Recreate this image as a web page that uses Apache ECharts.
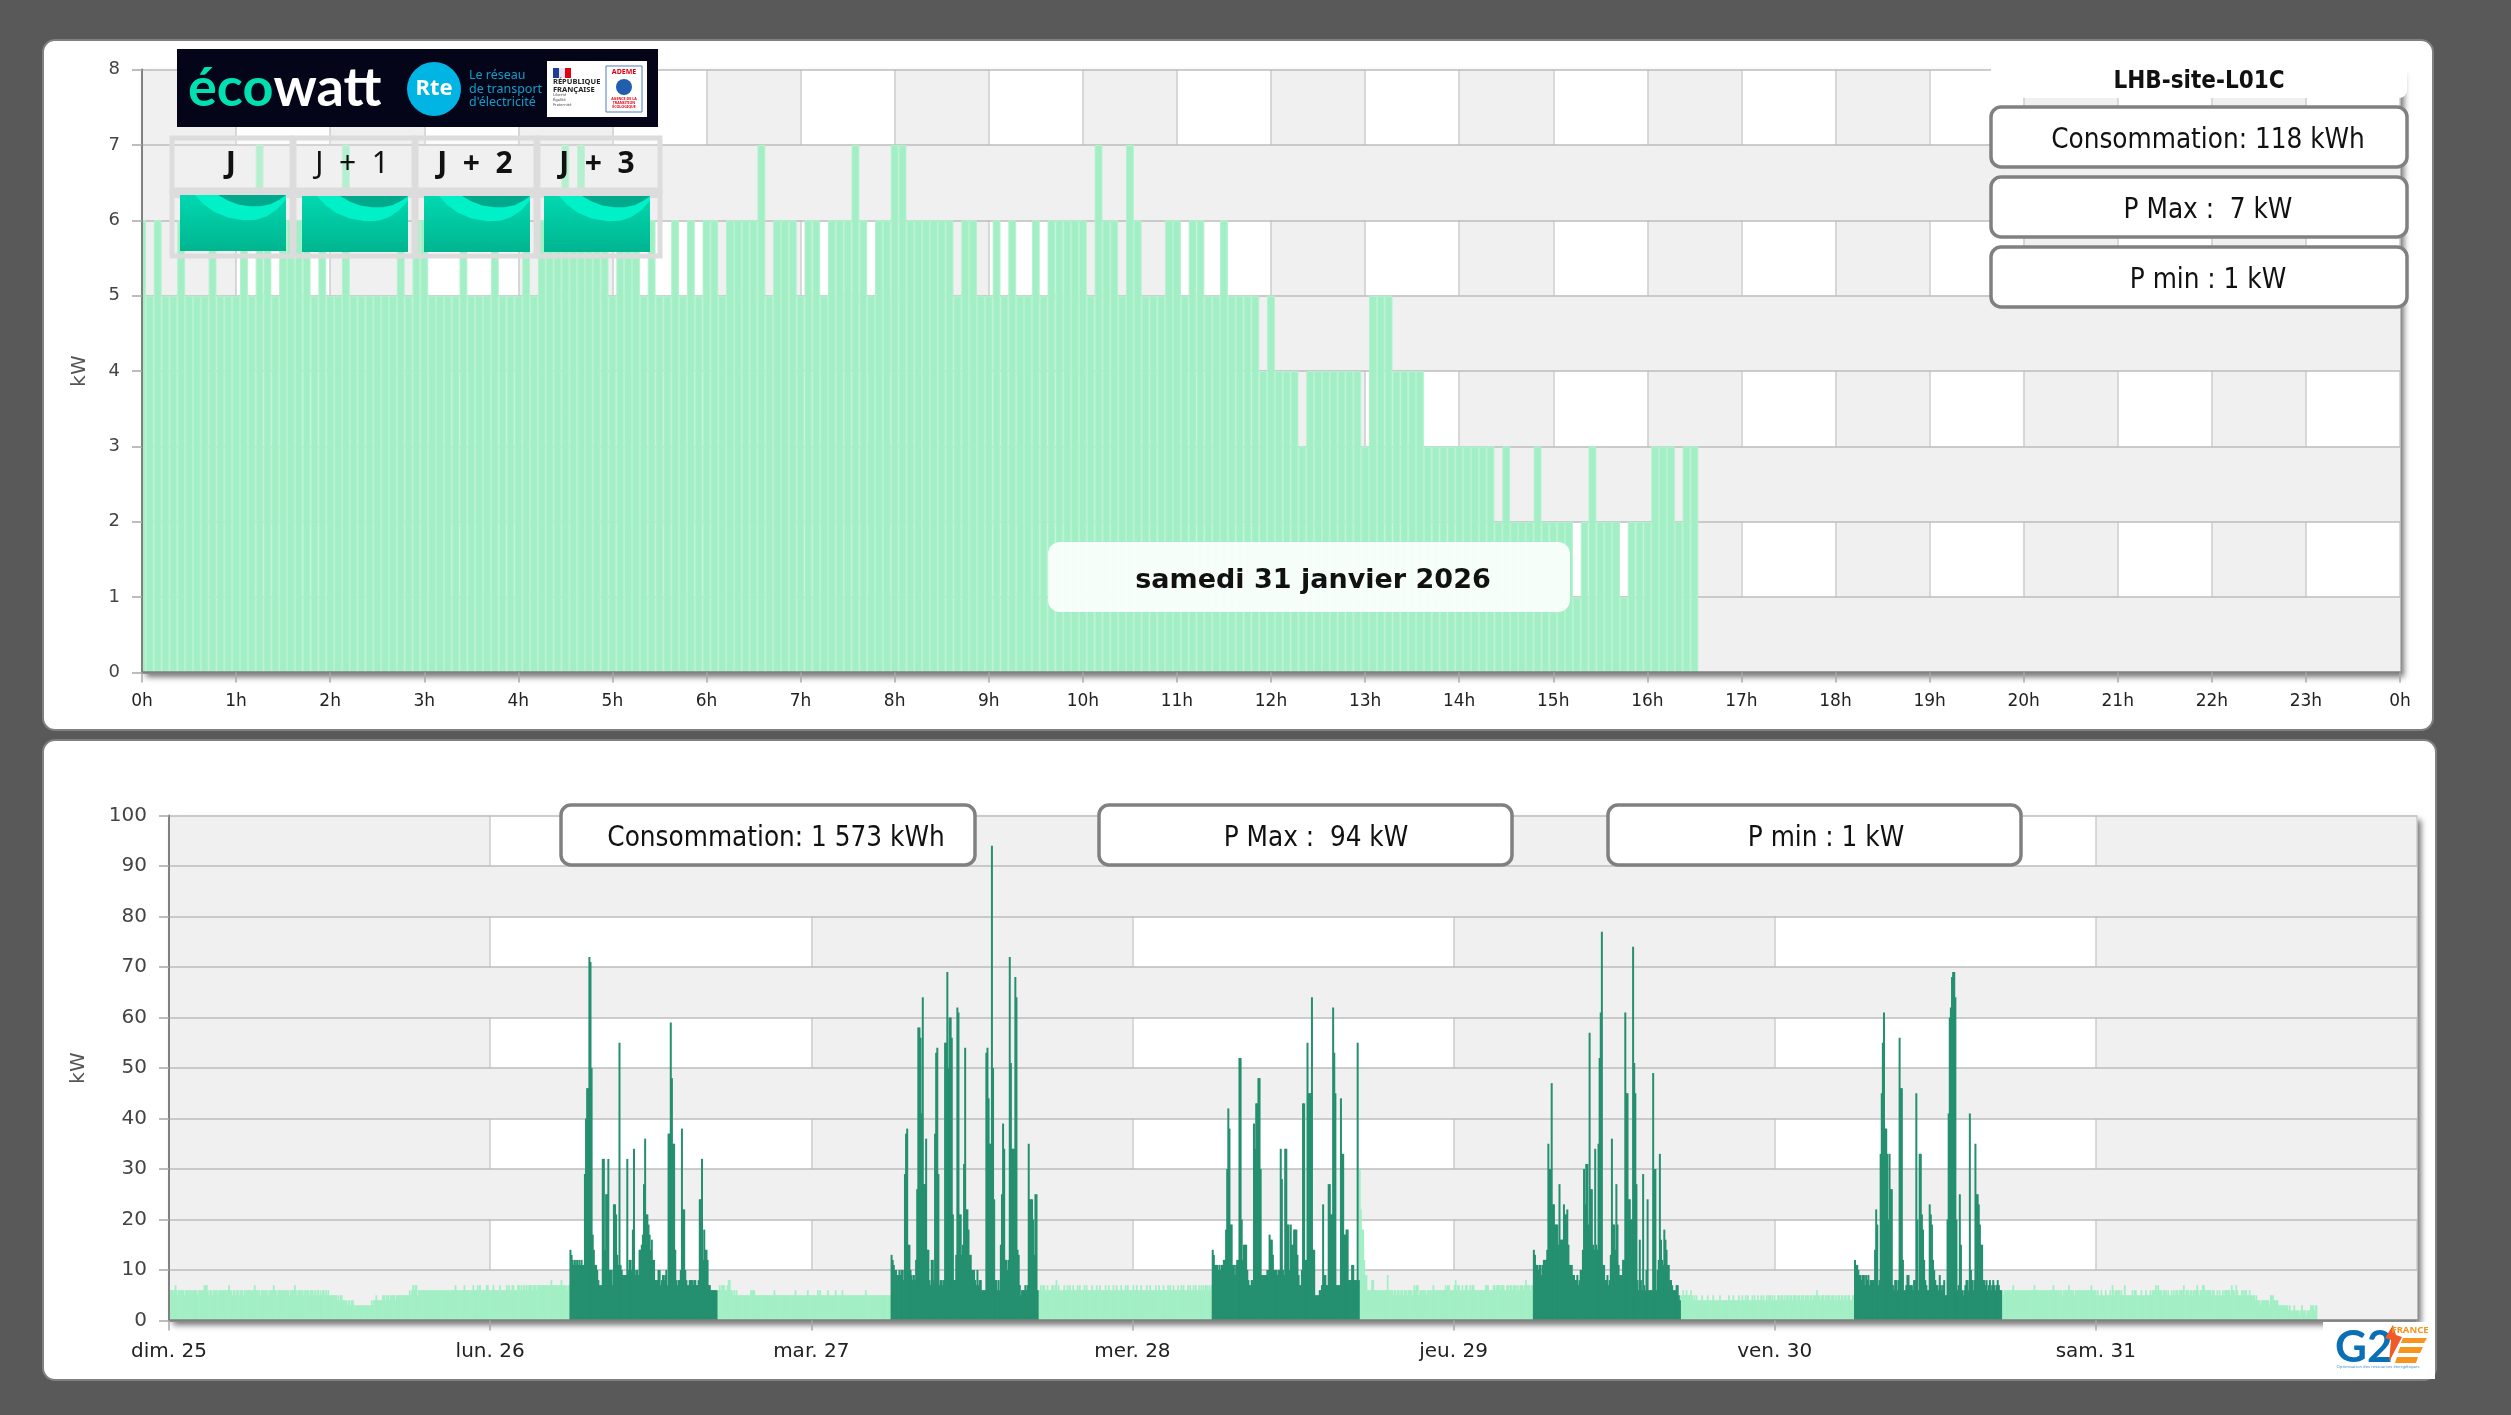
<!DOCTYPE html>
<html><head><meta charset="utf-8">
<style>html,body{margin:0;padding:0;background:#595959}#c{width:2511px;height:1415px}</style>
<script src="https://cdn.jsdelivr.net/npm/echarts@6/dist/echarts.min.js"></script>
</head><body><div id="c"></div>
<script>
const hourLabels=['0h','1h','2h','3h','4h','5h','6h','7h','8h','9h','10h','11h','12h','13h','14h','15h','16h','17h','18h','19h','20h','21h','22h','23h','0h'];
const dayLabels=['dim. 25','lun. 26','mar. 27','mer. 28','jeu. 29','ven. 30','sam. 31',''];
// samedi 31, one value every 5 minutes (kW)
const saturday=[
6,5,6,5,5,6,5,5,5,6,5,5,5,6,5,7,6,5,6,6,6,6,5,6,
5,5,7,5,5,5,5,5,5,6,5,6,6,5,5,5,5,6,5,5,5,6,5,5,
5,6,5,6,6,6,7,6,7,6,6,6,5,6,6,6,5,6,5,5,6,5,6,5,
6,6,5,6,6,6,6,7,5,6,6,6,5,6,6,5,6,6,6,7,6,5,6,6,
7,7,6,6,6,6,6,6,5,6,6,5,5,6,5,6,5,5,6,5,6,6,6,6,
6,5,7,6,6,5,7,6,5,5,5,6,6,5,6,6,5,5,6,5,5,5,5,4,
5,4,4,4,3,4,4,4,4,4,4,4,3,5,5,5,4,4,4,4,3,3,3,3,
3,3,3,3,3,2,3,2,2,2,3,2,2,2,2,1,2,3,2,2,2,1,2,2,
2,3,3,3,2,3,3];
// week chart, light bars outside 6h-17h on working days
const lightSundayToMonday=[
6,6,6,6,6,6,7,6,5,6,6,6,6,6,5,6,6,6,6,6,6,6,6,6,
6,6,5,6,6,6,6,6,7,7,7,6,5,6,6,5,6,6,6,6,5,6,6,6,
6,6,6,6,6,6,7,6,6,5,6,6,5,6,6,5,6,6,6,5,6,6,6,6,
6,6,6,6,6,7,6,6,6,6,5,6,6,6,6,6,6,5,6,6,6,6,7,6,
6,5,6,6,6,6,6,6,6,6,6,6,5,6,6,6,6,7,6,5,6,6,6,6,
6,5,6,6,6,6,5,6,6,6,5,6,5,6,6,5,6,5,6,6,5,6,5,6,
5,5,5,5,5,5,5,4,5,4,5,5,4,4,4,4,3,4,4,3,4,4,3,3,
3,3,3,3,3,3,3,3,3,3,3,3,3,3,4,3,4,4,5,4,4,4,4,4,
5,5,4,5,5,5,4,5,5,5,5,4,5,5,5,5,5,5,5,5,5,5,5,5,
6,5,6,7,6,7,7,5,6,6,6,6,6,6,6,6,6,6,6,6,6,6,6,6,
6,6,6,6,6,6,6,6,6,6,6,6,6,6,6,6,6,7,6,6,6,6,6,6,
6,7,6,6,6,6,6,6,6,7,6,6,6,7,6,7,6,6,6,6,6,7,7,6,
6,6,6,7,6,6,6,6,6,7,6,6,6,6,6,7,6,7,6,6,7,7,6,6,
6,7,7,6,7,6,7,7,6,7,6,7,7,7,6,7,7,7,6,7,7,7,7,7,
7,7,7,7,7,7,7,8,7,7,7,7,7,7,7,7,8,7,7,7,7,6,7,7];
const lightNightMonTue=[
6,6,7,6,7,7,7,6,6,7,8,8,6,6,5,6,5,6,5,5,5,5,5,5,
5,5,5,5,5,5,6,6,6,6,5,5,5,5,5,5,5,5,5,5,5,5,5,5,
5,5,5,6,5,5,5,5,5,5,5,5,5,5,5,5,5,5,5,5,5,5,6,5,
5,5,5,5,5,5,5,5,5,6,5,5,5,5,5,5,5,5,6,5,6,5,5,5,
5,5,5,6,5,5,5,5,5,5,6,5,5,5,5,5,6,5,5,5,5,5,5,5,
5,5,5,5,5,5,5,5,5,5,5,5,5,6,5,5,5,5,5,5,5,5,5,5,
5,5,5,5,5,5,5,5,5,5,5,5];
const lightNightTueWed=[
6,6,7,6,7,7,6,6,7,6,6,6,7,7,6,7,8,6,7,6,6,6,6,7,
6,6,7,6,7,6,6,7,6,6,6,7,6,7,6,6,6,7,6,7,6,6,6,6,
7,6,6,6,7,6,6,7,6,6,6,6,7,6,6,7,6,6,6,7,6,6,7,6,
6,6,7,6,6,6,7,6,7,6,6,6,6,7,6,6,7,6,6,6,7,6,6,6,
6,7,6,6,7,6,6,6,6,7,6,6,7,6,6,6,7,6,6,6,7,6,7,6,
6,7,6,6,6,7,6,6,7,6,7,6,6,6,7,6,7,6,6,7,6,7,6,6,
7,6,7,6,7,6,7,7,6,7,6,7];
const lightNightWedThu=[
30,22,18,18,12,9,9,6,6,6,6,8,8,6,6,6,6,6,6,6,6,6,6,6,
6,9,6,6,6,6,5,6,6,5,6,6,5,6,6,5,6,6,6,5,6,6,6,5,
6,7,6,7,7,5,6,6,6,6,6,6,5,6,6,6,6,6,7,6,6,6,6,6,
6,6,6,6,6,7,6,7,7,6,6,6,6,7,8,6,7,7,6,6,7,6,6,7,
7,6,6,7,6,7,7,6,6,6,6,6,6,6,6,6,6,7,7,7,6,6,6,6,
7,7,6,7,7,7,6,7,7,7,6,6,7,7,6,7,7,6,7,7,7,6,7,6,
7,7,7,6,7,8,7,7,7,6,7,7];
const lightNightThuFri=[
5,5,6,5,5,6,5,5,5,6,5,4,5,4,5,4,4,4,4,5,4,4,4,4,
5,4,4,4,4,5,4,4,4,4,4,5,4,4,4,4,4,4,4,5,4,4,4,5,
4,4,4,4,5,4,4,5,4,4,5,4,5,4,4,4,5,4,5,4,4,5,4,4,
5,4,5,4,4,5,4,5,5,4,5,4,5,4,4,5,5,4,5,5,4,5,4,5,
5,4,5,5,4,5,5,5,4,5,5,4,5,5,5,4,5,5,5,4,5,5,4,5,
5,5,6,5,5,4,5,5,5,4,5,5,5,5,4,5,5,5,4,5,4,5,5,4,
5,5,4,5,5,4,5,5,4,4,5,5];
const lightFridayEvening=[
6,5,6,6,6,6,6,6,6,6,7,6,6,6,6,6,6,6,6,6,6,6,6,6,
6,6,6,6,6,7,6,6,6,6,6,6,6,6,6,6,6,6,6,6,6,6,7,6,
6,6,6,6,6,6,5,6,6,6,6,6,7,6,6,6,6,5,6,6,6,6,6,6,
6,6,6,6,6,6,6,6,7,6,6,6];
// week chart, dark bars 6h-17h
const darkMonday=[
14,13,12,11,12,11,12,11,12,11,12,11,11,29,40,46,46,72,71,50,17,14,11,11,
10,8,7,7,7,32,32,14,25,25,32,10,10,10,7,23,23,21,13,11,55,11,10,9,
9,9,9,32,10,12,12,10,18,34,9,10,10,9,14,14,15,17,27,36,21,21,19,17,
14,16,12,12,8,8,8,10,10,7,8,9,8,9,10,7,37,37,59,48,35,35,14,8,
7,8,8,10,38,22,22,10,8,7,7,8,8,8,7,8,8,7,7,8,24,24,32,12,
18,14,14,12,7,7,6,6,6,6,6,6];
const darkTuesday=[
13,12,11,10,10,9,9,10,9,10,10,8,29,37,38,15,15,10,9,8,9,8,12,26,
58,58,56,41,64,27,27,36,14,14,8,7,12,12,8,37,53,54,29,7,8,8,7,8,
55,55,69,50,60,60,56,21,8,8,13,62,61,21,21,13,15,31,54,22,22,18,13,13,
10,10,10,8,7,10,7,8,8,6,6,6,6,53,54,44,35,35,94,50,24,8,8,6,
8,6,15,25,39,34,12,12,10,12,72,51,34,34,34,68,64,14,13,7,5,6,6,6,
7,6,7,35,24,24,24,20,13,25,25,6];
const darkWednesday=[
14,13,11,11,11,10,11,10,11,11,12,12,18,30,42,38,19,19,11,11,9,11,12,12,
52,52,20,12,15,15,15,10,8,7,7,8,8,39,34,43,43,48,48,30,9,9,9,9,
9,10,10,17,16,16,13,10,10,10,9,10,10,34,28,10,9,34,34,19,19,10,19,15,
15,18,18,18,13,9,7,7,10,43,43,12,12,55,45,45,45,64,14,14,5,5,5,5,
6,6,7,23,9,9,7,7,27,27,21,21,62,53,45,7,7,7,7,44,33,33,17,17,
18,18,8,8,8,11,11,8,8,8,55,8];
const darkThursday=[
14,13,11,11,10,11,11,9,11,12,12,12,14,35,30,30,47,23,23,19,19,19,15,27,
16,16,16,23,21,21,22,15,11,11,11,9,9,8,8,9,7,8,10,10,14,30,23,31,
31,19,57,26,26,15,14,34,15,14,35,52,61,77,11,11,8,8,9,7,8,13,36,19,
19,14,27,19,11,9,9,9,12,12,61,45,45,24,24,20,20,74,51,45,27,8,6,16,
8,6,29,7,6,10,24,6,6,6,6,49,30,30,6,10,12,33,16,12,11,18,16,14,
11,11,8,8,7,6,6,6,7,7,5,4];
const darkFriday=[
12,11,11,10,9,9,8,9,9,7,9,8,9,7,8,8,8,8,14,22,19,7,8,33,
45,55,61,38,38,33,20,33,26,26,7,6,8,8,6,8,56,46,46,12,6,6,7,9,
9,7,7,7,6,8,8,45,20,6,33,33,21,18,12,8,7,6,6,23,21,19,12,10,
8,7,7,6,9,7,6,7,8,5,5,20,41,60,62,68,69,69,64,20,6,7,25,15,
6,5,6,7,8,8,6,41,10,8,6,8,35,25,25,23,19,15,15,8,8,7,8,6,
7,8,6,7,8,7,6,7,8,7,6,6];

const LIGHT='#a3efc5', DARK='#25906f', SANS='"DejaVu Sans Condensed","Noto Sans",sans-serif';
const toPairs=(values,start)=>values.map((v,i)=>[start+i,v]);
const DAY=288;
const lightWeek=[].concat(
  toPairs(lightSundayToMonday,0),
  toPairs(lightNightMonTue,DAY+204),
  toPairs(lightNightTueWed,2*DAY+204),
  toPairs(lightNightWedThu,3*DAY+204),
  toPairs(lightNightThuFri,4*DAY+204),
  toPairs(lightFridayEvening,5*DAY+204),
  toPairs(saturday,6*DAY));
const darkWeek=[].concat(
  toPairs(darkMonday,DAY+72),
  toPairs(darkTuesday,2*DAY+72),
  toPairs(darkWednesday,3*DAY+72),
  toPairs(darkThursday,4*DAY+72),
  toPairs(darkFriday,5*DAY+72));

function rect(x,y,w,h,fill,o={}){return {type:'rect',silent:true,z:o.z??60,shape:{x,y,width:w,height:h,r:o.r||0},
  style:{fill,stroke:o.stroke,lineWidth:o.lw||0,opacity:o.opacity??1,shadowBlur:o.blur||0,shadowColor:o.sc,shadowOffsetX:o.sx||0,shadowOffsetY:o.sy||0}};}
function txt(x,y,text,font,fill,o={}){return {type:'text',silent:true,z:o.z??61,x,y,rotation:o.rot||0,style:{text,font,fill,align:o.align||'center',verticalAlign:'middle',lineHeight:o.lh,rich:o.rich}};}
function poly(points,fill,z=61){return {type:'polygon',silent:true,z,shape:{points},style:{fill}};}
function statBox(x,y,w,h,label,cx){return [rect(x,y,w,h,'#fff',{r:10,stroke:'#808080',lw:3.5,z:70}),txt(cx,y+h/2+3.5,label,'27.6px '+SANS,'#111',{z:71})];}
const waveLight=[[.14,0],[.22,.16],[.32,.3],[.45,.4],[.6,.45],[.72,.44],[.82,.38],[.92,.25],[1,.08],[1,0]];
const waveDark=[[.36,0],[.45,.1],[.55,.17],[.66,.2],[.76,.2],[.86,.16],[.94,.08],[1,0]];
function wave(x,y){const w=106,h=56;const g={type:'linear',x:0,y:0,x2:0,y2:1,colorStops:[{offset:0,color:'#00d8b0'},{offset:1,color:'#00b590'}]};
  const at=p=>[x+p[0]*w,y+p[1]*h];
  return [rect(x,y,w,h,g,{z:62}),poly(waveLight.map(at),'#00f0c8',63),poly(waveDark.map(at),'#00a88c',64)];}

const decor=[
  rect(43,40,2390,690,'#fff',{r:12,z:-5,stroke:'#808080',lw:2}),
  rect(43,740,2393,640,'#fff',{r:12,z:-5,stroke:'#808080',lw:2}),
  // keeps the half of the first bar that lies left of the axis hidden
  rect(130,215,11,458,'#fff',{z:3}),
  // title and stat boxes, top chart
  rect(1991,42,416,56,'#fff',{r:8,z:65}),
  txt(2199,82,'LHB-site-L01C','bold 24px '+SANS,'#111',{z:66}),
  ...statBox(1991,107,416,60,'Consommation: 118 kWh',2208),
  ...statBox(1991,177,416,60,'P Max :  7 kW',2208),
  ...statBox(1991,247,416,60,'P min : 1 kW',2208),
  // date
  rect(1048,542,522,70,'#fff',{r:12,opacity:.9,z:65}),
  txt(1313,580.5,'samedi 31 janvier 2026','bold 27px "DejaVu Sans",sans-serif','#111',{z:66}),
  // stat boxes, bottom chart
  ...statBox(561,805,414,60,'Consommation: 1 573 kWh',776),
  ...statBox(1099,805,413,60,'P Max :  94 kW',1316),
  ...statBox(1608,805,413,60,'P min : 1 kW',1826),
  // ecowatt banner
  rect(177,49,481,78,'#05051a',{z:60}),
  txt(188,89,'{a|éco}{b|watt}','bold 54px Lato','#fff',{align:'left',rich:{a:{font:'bold 54px Lato',fill:'#00e0b0'},b:{font:'bold 54px Lato',fill:'#fff'}}}),
  {type:'circle',silent:true,z:61,shape:{cx:434,cy:89,r:27},style:{fill:'#00b4e4'}},
  txt(434,89,'Rte','bold 22px "Noto Sans"','#fff',{z:62}),
  txt(469,75,"Le réseau",'12.5px "Noto Sans"','#0f9fc8',{align:'left'}),
  txt(469,89,"de transport",'12.5px "Noto Sans"','#0f9fc8',{align:'left'}),
  txt(469,102,"d'électricité",'12.5px "Noto Sans"','#0f9fc8',{align:'left'}),
  rect(547,61,100,56,'#fff',{z:61}),
  rect(553,68,6,10,'#1b3f94',{z:62}),rect(559,68,6,10,'#e8e8f4',{z:62}),rect(565,68,6,10,'#e1000f',{z:62}),
  txt(553,82,'RÉPUBLIQUE','bold 7.5px "Noto Sans"','#222',{align:'left',z:62}),
  txt(553,90,'FRANÇAISE','bold 7.5px "Noto Sans"','#222',{align:'left',z:62}),
  txt(553,100,'Liberté\nÉgalité\nFraternité','4px "Noto Sans"','#444',{align:'left',z:62,lh:5}),
  rect(606,66,36,46,'#fff',{z:62,stroke:'#4d7ec0',lw:1}),
  txt(624,72,'ADEME','bold 7px "Noto Sans"','#e1000f',{z:63}),
  {type:'circle',silent:true,z:63,shape:{cx:624,cy:87,r:8},style:{fill:'#1f5fae'}},
  txt(624,103,'AGENCE DE LA\nTRANSITION\nÉCOLOGIQUE','bold 3.6px "Noto Sans"','#e1000f',{z:63,lh:4}),
  // J tables
  ...[170,292,414,536].map((x,i)=>rect(x+2,138,[120,120,120,122][i],52,'rgba(240,240,240,0.25)',{stroke:'#dcdcdc',lw:5,z:60})),
  ...[170,292,414,536].map((x,i)=>rect(x+2,192,[120,120,120,122][i],64,'rgba(255,255,255,0)',{stroke:'#dcdcdc',lw:5,z:60})),
  rect(172,192,490,6,'#dcdcdc',{z:60}),
  txt(231,164,'J','bold 31px "Noto Sans"','#111'),
  txt(352,164,'J  +  1','30px "Noto Sans"','#111'),
  txt(475,164,'J  +  2','bold 30px "Noto Sans"','#111'),
  txt(597,164,'J  +  3','bold 30px "Noto Sans"','#111'),
  ...wave(180,195),...wave(302,196),...wave(424,196),...wave(544,196),
  // G2E logo
  rect(2323,1322,112,57,'#fff',{z:60}),
  txt(2335,1348,'G2','bold 44px Lato','#0a6fb5',{align:'left'}),
  poly([[2393,1325],[2385,1338],[2391,1340],[2389,1362],[2402,1337],[2396,1335]],'#ef5a28',62),
  poly([[2403,1338],[2427,1338],[2424,1343],[2401,1343]],'#f7941d',62),
  poly([[2400,1347],[2423,1347],[2420,1353],[2398,1353]],'#f7941d',62),
  poly([[2397,1357],[2418,1357],[2416,1363],[2395,1363]],'#f7941d',62),
  txt(2410,1330,'FRANCE','bold 9.5px "Noto Sans"','#f7941d',{z:63}),
  txt(2378,1367,'Optimisation des ressources énergétiques','4.2px "Noto Sans"','#3a8fc8',{z:63})
];

const LABEL='"DejaVu Sans",sans-serif';
// background axes: bands and grid lines only, below the bars
function xBack(gridIndex,max,interval){return {type:'value',gridIndex,min:0,max,interval,position:'bottom',z:0,
  axisLine:{show:false},axisTick:{show:false},axisLabel:{show:false},
  splitLine:{show:true,lineStyle:{color:'#cccccc',width:1.5}},
  splitArea:{show:true,areaStyle:{color:['#f0f0f0','#ffffff']}}};}
function yBack(gridIndex,max,interval){return {type:'value',gridIndex,min:0,max,interval,position:'left',z:1,
  axisLine:{show:false},axisTick:{show:false},axisLabel:{show:false},
  splitLine:{show:true,lineStyle:{color:'#bdbdbd',width:1.5}},
  splitArea:{show:true,areaStyle:{color:['#f0f0f0','rgba(0,0,0,0)']}}};}
// foreground axes: lines, ticks and labels, above the bars
function xFront(gridIndex,max,interval,labels,size,margin){return {type:'value',gridIndex,min:0,max,interval,position:'bottom',z:4,
  axisLine:{show:true,onZero:false,lineStyle:{color:'#808080',width:2.5}},axisTick:{show:true,length:10,lineStyle:{color:'#a8a8a8',width:1.5}},
  axisLabel:{fontFamily:LABEL,fontSize:size,color:'#222',margin,showMinLabel:true,showMaxLabel:true,hideOverlap:false,formatter:v=>labels[Math.round(v/interval)]},
  splitLine:{show:false},splitArea:{show:false}};}
function yFront(gridIndex,max,interval,size,nameGap){return {type:'value',gridIndex,min:0,max,interval,position:'left',z:4,name:'kW',nameLocation:'middle',nameRotate:90,nameGap,
  nameTextStyle:{fontFamily:LABEL,fontSize:20,color:'#555'},
  axisLine:{show:true,onZero:false,lineStyle:{color:'#808080',width:2}},axisTick:{show:true,length:10,lineStyle:{color:'#a8a8a8',width:1.5}},
  axisLabel:{fontFamily:LABEL,fontSize:size,color:'#444',margin:22},
  splitLine:{show:false},splitArea:{show:false}};}
const gridBase={show:true,backgroundColor:'#fff',borderWidth:0,shadowBlur:6,shadowColor:'rgba(0,0,0,0.55)',shadowOffsetX:4,shadowOffsetY:4,containLabel:false};

const chart=echarts.init(document.getElementById('c'),null,{renderer:'canvas',width:2511,height:1415});
chart.setOption({
  animation:false,backgroundColor:'#595959',
  grid:[{...gridBase,left:142,top:69.5,width:2258,height:603},{...gridBase,left:169,top:815.5,width:2248,height:505}],
  xAxis:[xBack(0,288,12),xBack(1,2016,288),xFront(0,288,12,hourLabels,17,21),xFront(1,2016,288,dayLabels,20,21)],
  yAxis:[yBack(0,8,1),yBack(1,100,10),yFront(0,8,1,18,52),yFront(1,100,10,20,80)],
  graphic:{elements:decor},
  series:[
    {name:'Jour',type:'bar',xAxisIndex:2,yAxisIndex:2,data:toPairs(saturday,0),barWidth:7.84,progressive:0,silent:true,
     itemStyle:{color:LIGHT,borderColor:'#b3f2cf',borderWidth:1}},
    {name:'Hors plage',type:'bar',xAxisIndex:3,yAxisIndex:3,data:lightWeek,barWidth:1.8,barGap:'-100%',progressive:0,silent:true,itemStyle:{color:LIGHT}},
    {name:'Plage',type:'bar',xAxisIndex:3,yAxisIndex:3,data:darkWeek,barWidth:2,barGap:'-100%',progressive:0,silent:true,itemStyle:{color:DARK}}
  ]
});
</script></body></html>
